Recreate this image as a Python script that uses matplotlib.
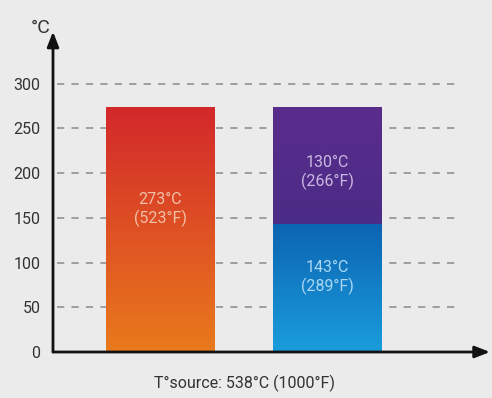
import numpy as np
import matplotlib.pyplot as plt
from matplotlib.colors import LinearSegmentedColormap

# values (°C)
bars = ["single", "stacked"]
single_val = 273
lower_val = 143
upper_val = 130
yticks = [0, 50, 100, 150, 200, 250, 300]
lbl_single = "273°C\n(523°F)"
lbl_lower = "143°C\n(289°F)"
lbl_upper = "130°C\n(266°F)"
xlabel = "T°source: 538°C (1000°F)"

plt.rcParams['font.family'] = ['Roboto', 'DejaVu Sans']
bg = "#ebebeb"

fig = plt.figure(figsize=(4.92, 3.98), dpi=100, facecolor=bg)
ax = fig.add_axes([53/492, 46/398, 437/492, 322/398], facecolor=bg)
ax.set_xlim(-0.641, 1.976)
ax.set_ylim(0, 360)
w = 0.647


def grad_bar(x, y0, y1, c_top, c_bot):
    cmap = LinearSegmentedColormap.from_list("g", [c_bot, c_top])
    g = np.linspace(0, 1, 256).reshape(-1, 1)
    ax.imshow(g, cmap=cmap, origin="lower", aspect="auto",
              extent=(x - w/2, x + w/2, y0, y1), zorder=2)


grad_bar(0, 0, single_val, "#d3282b", "#e97a1c")
grad_bar(1, 0, lower_val, "#0c64b2", "#1a9ddc")
grad_bar(1, lower_val, lower_val + upper_val, "#5a2c8c", "#4b2c86")

# dashed grid
for t in yticks[1:]:
    ax.plot([-0.62, 1.80], [t, t], ls=(0, (4, 4)), color="#999999", lw=1.3, zorder=1)

ax.text(0, 159, lbl_single, ha="center", va="center", color="#f3c0a8", fontsize=11.5, zorder=3)
ax.text(1, 201, lbl_upper, ha="center", va="center", color="#c9b8e0", fontsize=11.5, zorder=3)
ax.text(1, 83, lbl_lower, ha="center", va="center", color="#a8d8f4", fontsize=11.5, zorder=3)

for s in ax.spines.values():
    s.set_visible(False)
ax.set_xticks([])
ax.set_yticks(yticks)
ax.tick_params(axis="y", length=0, pad=9, labelsize=11.5, labelcolor="#333333")

# arrow axes
ax.annotate("", xy=(0, 0.995), xytext=(0, 0), xycoords="axes fraction",
            arrowprops=dict(arrowstyle="-|>,head_length=0.9,head_width=0.35", color="#111111", lw=2, shrinkA=0, shrinkB=0))
ax.annotate("", xy=(1.0, 0), xytext=(0, 0), xycoords="axes fraction",
            arrowprops=dict(arrowstyle="-|>,head_length=0.9,head_width=0.35", color="#111111", lw=2, shrinkA=0, shrinkB=0))

fig.text(41/492, 1 - 28/398, "°C", ha="center", va="center", fontsize=14, color="#333333")
fig.text(245/492, 1 - 383/398, xlabel, ha="center", va="center", fontsize=11.5, color="#333333")

fig.savefig("out.png", dpi=100, facecolor=bg)
